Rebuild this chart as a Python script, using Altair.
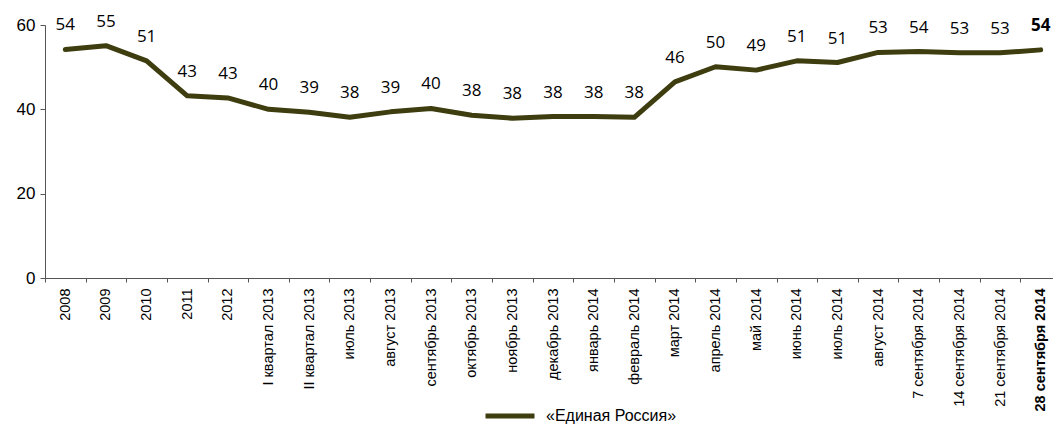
import altair as alt
import pandas as pd

categories = ["2008", "2009", "2010", "2011", "2012", "I квартал 2013", "II квартал 2013",
              "июль 2013", "август 2013", "сентябрь 2013", "октябрь 2013", "ноябрь 2013",
              "декабрь 2013", "январь 2014", "февраль 2014", "март 2014", "апрель 2014",
              "май 2014", "июнь 2014", "июль 2014", "август 2014", "7 сентября 2014",
              "14 сентября 2014", "21 сентября 2014", "28 сентября 2014"]
values = [54.2, 55.1, 51.5, 43.2, 42.7, 40.0, 39.3, 38.1, 39.4, 40.2, 38.6, 37.9, 38.3,
          38.3, 38.1, 46.5, 50.1, 49.3, 51.5, 51.1, 53.5, 53.7, 53.4, 53.4, 54.1]
labels = ["54", "55", "51", "43", "43", "40", "39", "38", "39", "40", "38", "38", "38",
          "38", "38", "46", "50", "49", "51", "51", "53", "54", "53", "53", "54"]
series_name = "«Единая Россия»"
highlight = "28 сентября 2014"

df = pd.DataFrame({
    "cat": categories,
    "value": values,
    "label": labels,
    "series": [series_name] * len(categories),
    "bold": [c == highlight for c in categories],
})

LINE_COLOR = "#3d3d0f"
AXIS_FONT = "Liberation Sans"
NUM_FONT = "Open Sans"

x_enc = alt.X(
    "cat:N",
    sort=categories,
    bandPosition=0.5,
    scale=alt.Scale(type="band", domain=categories, range=[0, 1016],
                    paddingInner=0, paddingOuter=0),
    axis=alt.Axis(
        title=None, labelAngle=270, labelAlign="right", labelBaseline="middle",
        labelFont=AXIS_FONT, labelFontSize=14.5, labelColor="black",
        labelPadding=6, tickSize=4, tickBand="extent",
        domainColor="#555555", tickColor="#555555",
        labelFontWeight={"condition": {"test": f"datum.value === '{highlight}'",
                                       "value": "bold"}, "value": "normal"},
    ),
)
y_enc = alt.Y(
    "value:Q",
    scale=alt.Scale(domain=[0, 60], nice=False, zero=True),
    axis=alt.Axis(title=None, values=[0, 20, 40, 60], grid=False,
                  labelFont=AXIS_FONT, labelFontSize=17, labelColor="black",
                  tickSize=5, labelPadding=5, domainColor="#555555", tickColor="#555555"),
)

line = alt.Chart(df).mark_line(strokeWidth=5, strokeJoin="round", strokeCap="round").encode(
    x=x_enc,
    y=y_enc,
    color=alt.Color(
        "series:N",
        scale=alt.Scale(range=[LINE_COLOR]),
        legend=alt.Legend(title=None, orient="none", legendX=438, legendY=364,
                          symbolType="stroke", symbolSize=2400, symbolStrokeWidth=5,
                          labelFont=AXIS_FONT, labelFontSize=16, labelColor="black",
                          labelOffset=9),
    ),
)

text_normal = alt.Chart(df).transform_filter("!datum.bold").mark_text(
    dy=-24, fontSize=17, font=NUM_FONT, color="black", baseline="middle").encode(
    x=x_enc, y=y_enc, text="label:N")

text_bold = alt.Chart(df).transform_filter("datum.bold").mark_text(
    dy=-24, fontSize=17, font=NUM_FONT, color="black", baseline="middle",
    fontWeight="bold").encode(
    x=x_enc, y=y_enc, text="label:N")

chart = (line + text_normal + text_bold).properties(
    width=1008, height=253,
    autosize=alt.AutoSizeParams(type="none"),
    padding={"left": 37, "top": 17, "right": 0, "bottom": 146},
).configure_view(stroke=None)

chart.save("out.html", embed_options={"renderer": "svg", "actions": False})
